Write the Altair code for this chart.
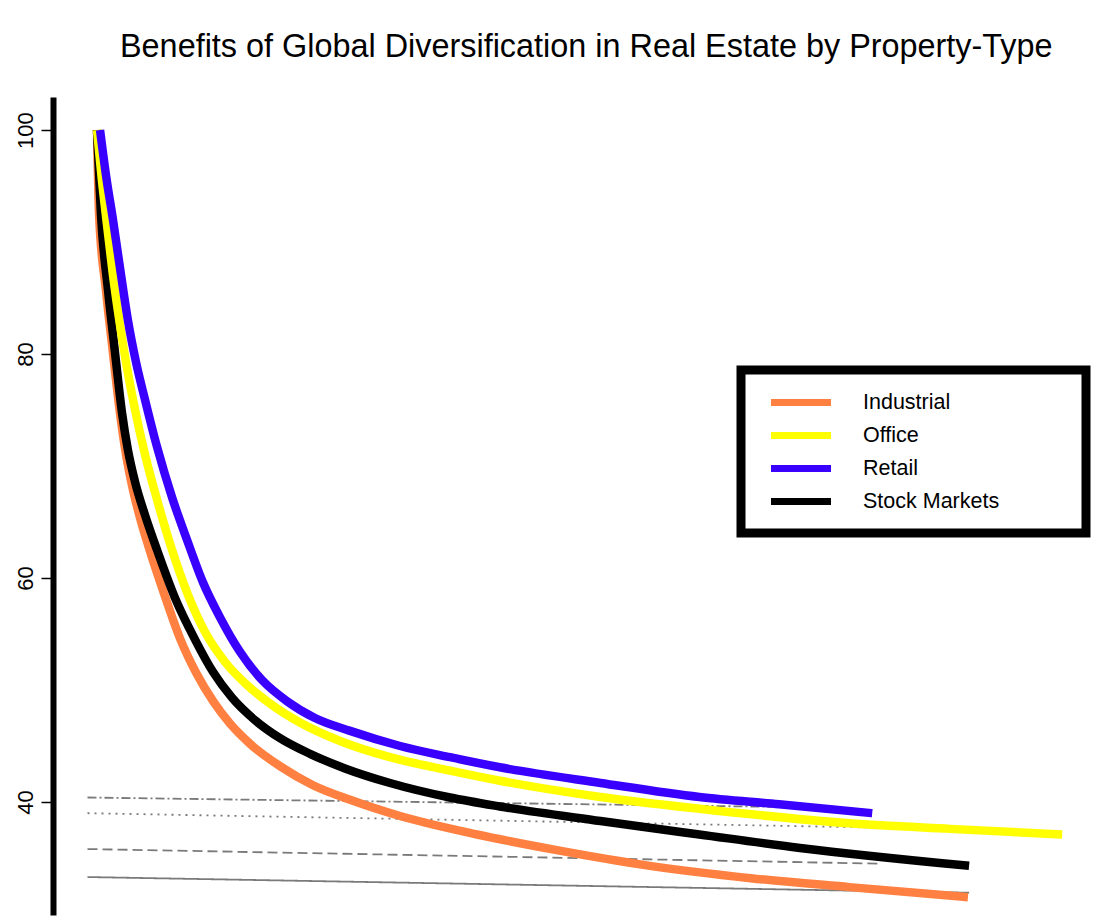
import altair as alt
import pandas as pd

# ---- data ----
series_names = ["Industrial", "Office", "Retail", "Stock Markets"]
series_colors = ["#FF8040", "#FFFF00", "#3A00FF", "#000000"]

industrial_x = [1.0, 1.11, 1.47, 1.84, 2.21, 2.53, 2.89, 3.26, 3.79, 4.47, 5.37, 6.26, 7.11, 8.0, 9.05,
                10.63, 12.37, 14.32, 16.95, 21.0, 25.2, 30.1, 35.4, 40.6, 46.84]
industrial_y = [100.0, 92.4, 85.7, 80.1, 74.7, 71.0, 67.9, 65.4, 62.4, 58.9, 54.6, 51.4, 49.0, 47.0, 45.2,
                43.2, 41.5, 40.2, 38.75, 37.1, 35.7, 34.3, 33.2, 32.4, 31.5]

stock_x = [1.0, 1.21, 1.58, 1.95, 2.32, 2.63, 3.0, 3.53, 4.16, 5.11, 6.16, 7.11, 8.11, 9.32, 10.63,
           12.21, 14.05, 16.42, 19.58, 22.2, 27.5, 32.7, 38.0, 46.9]
stock_y = [100.0, 92.4, 85.7, 80.1, 74.7, 71.4, 68.6, 65.6, 62.5, 58.2, 54.5, 51.6, 49.3, 47.3, 45.7,
           44.3, 43.0, 41.7, 40.4, 39.6, 38.3, 37.1, 35.9, 34.3]

office_x = [1.0, 1.26, 1.53, 1.84, 2.21, 2.58, 2.95, 3.53, 4.16, 4.95, 5.79, 6.68, 7.74, 8.89, 10.1,
            11.68, 13.79, 16.42, 19.58, 22.2, 27.5, 32.7, 40.6, 45.9, 51.8]
office_y = [100.0, 95.5, 91.5, 87.05, 82.6, 78.75, 75.45, 71.0, 67.0, 62.5, 58.5, 55.2, 52.5, 50.45, 48.8,
            47.1, 45.45, 44.0, 42.8, 41.9, 40.45, 39.4, 38.1, 37.6, 37.1]

retail_x = [1.16, 1.47, 1.84, 2.21, 2.63, 3.05, 3.53, 4.16, 4.95, 5.74, 6.58, 7.47, 8.53, 9.68, 11.0,
            12.47, 14.32, 16.95, 19.58, 22.2, 27.5, 32.7, 36.9, 41.8]
retail_y = [100.0, 96.0, 92.0, 87.7, 83.0, 79.3, 75.9, 71.7, 67.2, 63.4, 59.6, 56.5, 53.4, 50.9, 49.0,
            47.5, 46.35, 45.0, 44.0, 43.1, 41.7, 40.45, 39.8, 39.0]

# faint residual reference lines near the bottom
faint_names = ["dashdot", "dotted", "dashed", "solid"]
faint_x = [[0.5, 39.6], [0.5, 42.6], [0.5, 42.1], [0.5, 46.9]]
faint_y = [[40.4, 39.5], [39.0, 37.7], [35.8, 34.5], [33.3, 31.9]]

y_ticks = [40, 60, 80, 100]
title_text = "Benefits of Global Diversification in Real Estate by Property-Type"

# ---- tables ----
def frame(name, xs, ys):
    return pd.DataFrame({"x": xs, "y": ys, "series": name})

curves = {
    "Industrial": frame("Industrial", industrial_x, industrial_y),
    "Stock Markets": frame("Stock Markets", stock_x, stock_y),
    "Office": frame("Office", office_x, office_y),
    "Retail": frame("Retail", retail_x, retail_y),
}
faint_df = pd.concat(
    [pd.DataFrame({"x": fx, "y": fy, "kind": n}) for n, fx, fy in zip(faint_names, faint_x, faint_y)],
    ignore_index=True,
)

FONT = "Liberation Sans"
x_scale = alt.Scale(domain=[-1.316, 52.895], nice=False, zero=False)
y_scale = alt.Scale(domain=[29.91, 102.95], nice=False, zero=False)
color_scale = alt.Scale(domain=series_names, range=series_colors)

y_axis = alt.Axis(
    values=y_ticks,
    title=None,
    grid=False,
    domainColor="black",
    domainWidth=6,
    tickColor="black",
    tickWidth=1.5,
    tickSize=12,
    labelFont=FONT,
    labelFontSize=22,
    labelColor="black",
    labelAngle=270,
    labelAlign="center",
    labelBaseline="bottom",
    labelPadding=4,
)

faint = alt.Chart(faint_df).mark_line(strokeWidth=1.8, opacity=0.6, color="#222222").encode(
    x=alt.X("x:Q", scale=x_scale, axis=None),
    y=alt.Y("y:Q", scale=y_scale, axis=y_axis),
    detail="kind:N",
    strokeDash=alt.StrokeDash(
        "kind:N",
        scale=alt.Scale(domain=faint_names, range=[[9, 3, 2, 3], [2, 5], [10, 5], [1, 0]]),
        legend=None,
    ),
)

legend_box = alt.Chart(alt.Data(values=[{}])).mark_rect(
    fill="white", stroke="black", strokeWidth=9
).encode(
    x=alt.value(688), x2=alt.value(1033), y=alt.value(273), y2=alt.value(436)
)

def curve_layer(name):
    return alt.Chart(curves[name]).mark_line(strokeWidth=8.5, interpolate="monotone").encode(
        x=alt.X("x:Q", scale=x_scale, axis=None),
        y=alt.Y("y:Q", scale=y_scale, axis=y_axis),
        color=alt.Color(
            "series:N",
            scale=color_scale,
            legend=alt.Legend(
                title=None,
                orient="none",
                legendX=732.5,
                legendY=290,
                symbolType="M-2.5,0L2.5,0",
                symbolSize=576,
                symbolStrokeWidth=7,
                labelFont=FONT,
                labelFontSize=21.5,
                labelColor="black",
                labelOffset=46.5,
                rowPadding=3,
                padding=0,
            ),
        ),
    )

chart = alt.layer(
    faint,
    legend_box,
    curve_layer("Industrial"),
    curve_layer("Stock Markets"),
    curve_layer("Office"),
    curve_layer("Retail"),
).properties(
    width=1030,
    height=818,
    background="white",
    title=alt.TitleParams(
        text=title_text,
        font=FONT,
        fontSize=32.4,
        fontWeight="normal",
        color="black",
        anchor="start",
        frame="group",
        dx=67,
        offset=34,
    ),
    autosize=alt.AutoSizeParams(type="none"),
    padding={"left": 53, "top": 97, "right": 13, "bottom": 2},
).configure_view(stroke=None, strokeWidth=0)

chart.save("out.html", embed_options={"renderer": "svg", "actions": False})
